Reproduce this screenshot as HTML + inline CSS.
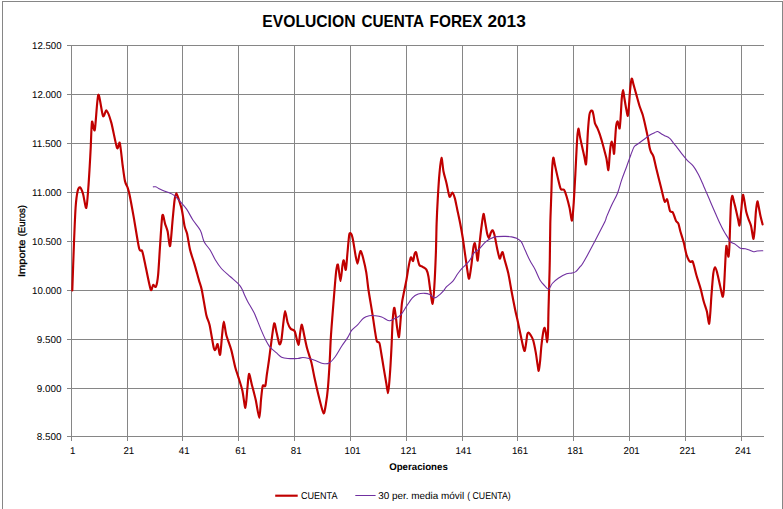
<!DOCTYPE html>
<html><head><meta charset="utf-8"><title>EVOLUCION CUENTA FOREX 2013</title>
<style>
html,body{margin:0;padding:0;background:#fff;}
body{width:783px;height:509px;overflow:hidden;font-family:"Liberation Sans",sans-serif;}
svg{display:block;}
text{font-family:"Liberation Sans",sans-serif;fill:#000;}
.ax{font-size:9.9px;text-rendering:geometricPrecision;}
.b{font-weight:bold;}
</style></head><body>
<svg width="783" height="509" viewBox="0 0 783 509">
<rect x="0" y="0" width="783" height="509" fill="#fff"/>
<g stroke="#868686" stroke-width="1" fill="none" shape-rendering="crispEdges">
<path d="M2.5,510 V1.5 H782.5 V510"/>
<line x1="67" y1="45.5" x2="764" y2="45.5"/>
<line x1="67" y1="94.5" x2="764" y2="94.5"/>
<line x1="67" y1="143.5" x2="764" y2="143.5"/>
<line x1="67" y1="192.5" x2="764" y2="192.5"/>
<line x1="67" y1="241.5" x2="764" y2="241.5"/>
<line x1="67" y1="290.5" x2="764" y2="290.5"/>
<line x1="67" y1="339.5" x2="764" y2="339.5"/>
<line x1="67" y1="388.5" x2="764" y2="388.5"/>
<line x1="67" y1="436.5" x2="764" y2="436.5"/>
<line x1="71.5" y1="45" x2="71.5" y2="441"/>
<line x1="127.5" y1="45" x2="127.5" y2="441"/>
<line x1="182.5" y1="45" x2="182.5" y2="441"/>
<line x1="238.5" y1="45" x2="238.5" y2="441"/>
<line x1="294.5" y1="45" x2="294.5" y2="441"/>
<line x1="350.5" y1="45" x2="350.5" y2="441"/>
<line x1="406.5" y1="45" x2="406.5" y2="441"/>
<line x1="462.5" y1="45" x2="462.5" y2="441"/>
<line x1="517.5" y1="45" x2="517.5" y2="441"/>
<line x1="573.5" y1="45" x2="573.5" y2="441"/>
<line x1="629.5" y1="45" x2="629.5" y2="441"/>
<line x1="685.5" y1="45" x2="685.5" y2="441"/>
<line x1="741.5" y1="45" x2="741.5" y2="441"/>
</g>
<path d="M72.30,290.40 C72.51,284.35 73.46,256.05 73.90,245.00 C74.34,233.95 75.11,214.66 75.60,207.50 C76.09,200.34 77.01,193.99 77.60,191.30 C78.19,188.61 79.28,186.97 80.00,187.30 C80.72,187.63 82.16,191.04 83.00,193.80 C83.84,196.56 85.59,208.77 86.30,208.00 C87.01,207.23 87.86,193.33 88.30,188.00 C88.74,182.67 89.28,173.33 89.60,168.00 C89.92,162.67 90.38,154.16 90.70,148.00 C91.02,141.84 91.45,124.23 92.00,121.80 C92.55,119.37 93.96,133.40 94.80,129.80 C95.64,126.20 97.21,96.64 98.30,94.80 C99.39,92.96 101.91,113.91 103.00,116.00 C104.09,118.09 105.39,109.62 106.50,110.50 C107.61,111.38 109.90,117.61 111.30,122.60 C112.70,127.59 115.87,145.18 117.00,147.90 C118.13,150.62 119.05,140.72 119.80,143.00 C120.55,145.28 121.91,159.89 122.60,165.00 C123.29,170.11 124.33,178.30 125.00,181.30 C125.67,184.30 126.99,185.67 127.60,187.50 C128.21,189.33 128.77,190.99 129.60,195.00 C130.43,199.01 132.53,210.49 133.80,217.60 C135.07,224.71 137.99,243.86 139.10,248.30 C140.21,252.74 141.37,249.15 142.10,250.90 C142.83,252.65 143.47,256.27 144.60,261.40 C145.73,266.53 149.47,286.22 150.60,289.35 C151.73,292.48 152.39,285.21 153.10,284.85 C153.81,284.49 155.23,287.95 155.90,286.65 C156.57,285.35 157.54,280.64 158.10,275.10 C158.66,269.56 159.53,253.07 160.10,245.10 C160.67,237.13 161.73,218.19 162.40,215.35 C163.07,212.51 164.41,221.67 165.10,223.80 C165.79,225.93 166.93,228.33 167.60,231.30 C168.27,234.27 169.43,247.54 170.10,246.05 C170.77,244.56 172.00,226.24 172.60,220.10 C173.20,213.96 174.09,203.58 174.60,200.00 C175.11,196.42 175.83,193.25 176.40,193.25 C176.97,193.25 178.17,197.77 178.90,200.00 C179.63,202.23 181.14,206.49 181.90,210.00 C182.66,213.51 183.91,223.13 184.60,226.30 C185.29,229.47 186.37,230.63 187.10,233.80 C187.83,236.97 189.13,246.09 190.10,250.10 C191.07,254.11 193.23,259.90 194.40,263.90 C195.57,267.90 197.91,276.62 198.90,280.10 C199.89,283.58 200.81,285.35 201.80,290.00 C202.79,294.65 205.26,310.33 206.30,315.00 C207.34,319.67 208.60,320.59 209.60,325.00 C210.60,329.41 213.00,344.85 213.80,348.10 C214.60,351.35 215.09,349.89 215.60,349.35 C216.11,348.81 217.00,343.32 217.60,344.05 C218.20,344.78 219.50,356.06 220.10,354.85 C220.70,353.64 221.61,339.44 222.10,335.00 C222.59,330.56 223.24,321.55 223.80,321.55 C224.36,321.55 225.30,331.19 226.30,335.00 C227.30,338.81 230.10,345.77 231.30,350.10 C232.50,354.43 234.38,363.97 235.30,367.50 C236.22,371.03 237.25,373.51 238.20,376.60 C239.15,379.69 241.44,386.53 242.40,390.70 C243.36,394.87 244.73,408.18 245.40,407.85 C246.07,407.52 246.92,392.73 247.40,388.20 C247.88,383.67 248.40,374.29 249.00,373.85 C249.60,373.41 251.01,381.44 251.90,384.90 C252.79,388.36 254.71,395.41 255.70,399.80 C256.69,404.19 258.59,417.85 259.30,417.85 C260.01,417.85 260.55,404.05 261.00,399.80 C261.45,395.55 262.13,387.80 262.70,385.95 C263.27,384.10 264.75,387.42 265.30,385.95 C265.85,384.48 266.31,378.36 266.80,374.90 C267.29,371.44 268.49,363.64 269.00,360.00 C269.51,356.36 269.92,352.46 270.60,347.60 C271.28,342.74 273.30,325.55 274.10,323.55 C274.90,321.55 275.89,329.87 276.60,332.60 C277.31,335.33 278.76,343.05 279.40,344.05 C280.04,345.05 280.87,342.97 281.40,340.10 C281.93,337.23 282.91,326.37 283.40,322.50 C283.89,318.63 284.54,311.05 285.10,311.05 C285.66,311.05 286.85,320.13 287.60,322.50 C288.35,324.87 289.75,327.63 290.70,328.80 C291.65,329.97 293.67,329.16 294.70,331.30 C295.73,333.44 297.67,344.68 298.40,344.85 C299.13,345.02 299.73,335.28 300.20,332.60 C300.67,329.92 301.34,324.26 301.90,324.75 C302.46,325.24 303.69,333.09 304.40,336.30 C305.11,339.51 306.27,345.29 307.20,348.80 C308.13,352.31 310.41,358.67 311.40,362.60 C312.39,366.53 313.51,373.34 314.60,378.30 C315.69,383.26 318.40,395.13 319.60,399.80 C320.80,404.47 322.76,412.79 323.60,413.35 C324.44,413.91 325.33,407.35 325.90,404.00 C326.47,400.65 327.41,393.63 327.90,388.20 C328.39,382.77 329.21,369.98 329.60,363.30 C329.99,356.62 330.41,344.53 330.80,338.10 C331.19,331.67 332.01,321.51 332.50,315.10 C332.99,308.69 333.99,296.00 334.50,290.00 C335.01,284.00 335.83,273.45 336.30,270.10 C336.77,266.75 337.44,263.39 338.00,264.85 C338.56,266.31 339.90,281.02 340.50,281.05 C341.10,281.08 342.06,267.86 342.50,265.10 C342.94,262.34 343.36,259.72 343.80,260.35 C344.24,260.98 345.31,270.90 345.80,269.85 C346.29,268.80 347.03,257.21 347.50,252.50 C347.97,247.79 348.79,236.96 349.30,234.50 C349.81,232.04 350.81,233.32 351.30,234.05 C351.79,234.78 352.44,237.19 353.00,240.00 C353.56,242.81 354.90,251.96 355.50,255.10 C356.10,258.24 356.99,263.55 357.50,263.55 C358.01,263.55 358.86,256.77 359.30,255.10 C359.74,253.43 360.31,250.72 360.80,251.05 C361.29,251.38 362.27,254.73 363.00,257.60 C363.73,260.47 365.57,268.28 366.30,272.60 C367.03,276.92 367.70,284.59 368.50,290.00 C369.30,295.41 371.46,307.89 372.30,313.20 C373.14,318.51 374.20,326.08 374.80,329.80 C375.40,333.52 376.19,339.34 376.80,341.10 C377.41,342.86 378.80,341.35 379.40,343.00 C380.00,344.65 380.73,350.15 381.30,353.50 C381.87,356.85 383.03,364.11 383.70,368.10 C384.37,372.09 385.73,380.06 386.30,383.40 C386.87,386.74 387.61,393.15 388.00,393.15 C388.39,393.15 388.87,387.09 389.20,383.40 C389.53,379.71 390.18,370.62 390.50,365.50 C390.82,360.38 391.31,351.07 391.60,345.00 C391.89,338.93 392.35,324.95 392.70,320.00 C393.05,315.05 393.81,308.53 394.20,307.85 C394.59,307.17 395.20,312.19 395.60,314.90 C396.00,317.61 396.75,325.25 397.20,328.20 C397.65,331.15 398.55,338.14 399.00,337.05 C399.45,335.96 400.21,324.50 400.60,320.00 C400.99,315.50 401.45,307.03 401.90,303.30 C402.35,299.57 403.40,295.09 404.00,292.00 C404.60,288.91 405.75,283.69 406.40,280.10 C407.05,276.51 408.30,268.13 408.90,265.10 C409.50,262.07 410.34,257.89 410.90,257.35 C411.46,256.81 412.61,261.52 413.10,261.05 C413.59,260.58 414.20,254.97 414.60,253.80 C415.00,252.63 415.70,251.58 416.10,252.25 C416.50,252.92 417.16,257.09 417.60,258.80 C418.04,260.51 418.73,264.03 419.40,265.10 C420.07,266.17 421.67,266.20 422.60,266.80 C423.53,267.40 425.63,268.33 426.40,269.60 C427.17,270.87 427.87,273.45 428.40,276.30 C428.93,279.15 429.84,287.34 430.40,291.00 C430.96,294.66 432.08,304.28 432.60,303.75 C433.12,303.22 433.86,293.83 434.30,287.00 C434.74,280.17 435.59,260.90 435.90,252.50 C436.21,244.10 436.35,231.25 436.60,224.00 C436.85,216.75 437.41,204.87 437.80,198.10 C438.19,191.33 439.01,178.57 439.50,173.20 C439.99,167.83 440.97,158.08 441.50,157.85 C442.03,157.62 442.83,168.12 443.50,171.50 C444.17,174.88 445.70,179.85 446.50,183.20 C447.30,186.55 448.73,195.40 449.50,196.65 C450.27,197.90 451.59,192.36 452.30,192.55 C453.01,192.74 454.13,195.81 454.80,198.10 C455.47,200.39 456.59,206.38 457.30,209.70 C458.01,213.02 459.38,219.29 460.10,223.00 C460.82,226.71 462.02,233.22 462.70,237.50 C463.38,241.78 464.53,250.42 465.20,255.10 C465.87,259.78 467.17,269.47 467.70,272.60 C468.23,275.73 468.71,279.55 469.20,278.55 C469.69,277.55 470.84,269.24 471.40,265.10 C471.96,260.96 472.93,250.41 473.40,247.50 C473.87,244.59 474.50,242.58 474.90,243.25 C475.30,243.92 476.03,250.19 476.40,252.50 C476.77,254.81 477.30,261.55 477.70,260.55 C478.10,259.55 478.91,249.41 479.40,245.00 C479.89,240.59 480.85,231.65 481.40,227.50 C481.95,223.35 482.98,214.45 483.50,213.85 C484.02,213.25 484.81,220.34 485.30,223.00 C485.79,225.66 486.71,231.79 487.20,233.80 C487.69,235.81 488.53,238.16 489.00,238.05 C489.47,237.94 490.23,234.04 490.70,233.00 C491.17,231.96 491.99,229.98 492.50,230.25 C493.01,230.52 493.87,232.53 494.50,235.00 C495.13,237.47 496.51,245.66 497.20,248.80 C497.89,251.94 499.13,257.88 499.70,258.55 C500.27,259.22 501.10,254.64 501.50,253.80 C501.90,252.96 502.27,251.41 502.70,252.25 C503.13,253.09 503.95,257.29 504.70,260.10 C505.45,262.91 507.38,269.11 508.30,273.30 C509.22,277.49 510.68,286.61 511.60,291.50 C512.52,296.39 514.37,306.00 515.20,310.00 C516.03,314.00 517.03,317.93 517.80,321.50 C518.57,325.07 520.24,333.23 521.00,336.80 C521.76,340.37 522.99,346.43 523.50,348.30 C524.01,350.17 524.45,351.53 524.80,350.85 C525.15,350.17 525.77,345.41 526.10,343.20 C526.43,340.99 526.99,335.72 527.30,334.30 C527.61,332.88 527.97,332.47 528.40,332.55 C528.83,332.63 529.87,333.91 530.50,334.90 C531.13,335.89 532.41,337.71 533.10,340.00 C533.79,342.29 535.10,348.78 535.70,352.10 C536.30,355.42 537.20,362.41 537.60,364.90 C538.00,367.39 538.37,371.26 538.70,370.75 C539.03,370.24 539.74,364.43 540.10,361.10 C540.46,357.77 540.97,349.72 541.40,345.80 C541.83,341.88 542.87,334.11 543.30,331.70 C543.73,329.29 544.25,327.58 544.60,327.75 C544.95,327.92 545.57,331.05 545.90,333.00 C546.23,334.95 546.82,342.35 547.10,342.35 C547.38,342.35 547.81,337.34 548.00,333.00 C548.19,328.66 548.34,316.21 548.50,309.80 C548.66,303.39 549.03,291.54 549.20,284.90 C549.37,278.26 549.65,268.12 549.80,260.00 C549.95,251.88 550.10,232.69 550.30,224.00 C550.50,215.31 551.06,202.01 551.30,194.80 C551.54,187.59 551.83,174.85 552.10,169.90 C552.37,164.95 552.93,158.32 553.30,157.65 C553.67,156.98 554.29,162.16 554.90,164.90 C555.51,167.64 557.11,174.99 557.90,178.20 C558.69,181.41 559.97,187.45 560.80,189.00 C561.63,190.55 563.33,188.80 564.10,189.80 C564.87,190.80 565.87,194.06 566.60,196.50 C567.33,198.94 568.88,204.88 569.60,208.10 C570.32,211.32 571.45,221.32 572.00,220.65 C572.55,219.98 573.25,209.43 573.70,203.10 C574.15,196.77 575.01,180.41 575.40,173.20 C575.79,165.99 576.32,154.13 576.60,149.00 C576.88,143.87 577.23,137.41 577.50,134.70 C577.77,131.99 578.28,128.42 578.60,128.65 C578.92,128.88 579.39,133.82 579.90,136.40 C580.41,138.98 581.83,145.39 582.40,148.00 C582.97,150.61 583.72,153.82 584.20,156.00 C584.68,158.18 585.63,165.15 586.00,164.35 C586.37,163.55 586.75,154.39 587.00,150.00 C587.25,145.61 587.58,136.09 587.90,131.40 C588.22,126.71 589.03,117.49 589.40,114.80 C589.77,112.11 590.30,111.71 590.70,111.20 C591.10,110.69 592.01,110.36 592.40,110.95 C592.79,111.54 593.27,113.98 593.60,115.60 C593.93,117.22 594.39,121.43 594.90,123.10 C595.41,124.77 596.73,126.55 597.40,128.10 C598.07,129.65 599.23,132.71 599.90,134.70 C600.57,136.69 601.85,141.09 602.40,143.00 C602.95,144.91 603.47,146.96 604.00,149.00 C604.53,151.04 605.81,155.48 606.40,158.30 C606.99,161.12 607.97,170.46 608.40,170.15 C608.83,169.84 609.31,159.22 609.60,156.00 C609.89,152.78 610.31,147.93 610.60,146.00 C610.89,144.07 611.48,141.48 611.80,141.55 C612.12,141.62 612.69,144.87 613.00,146.50 C613.31,148.13 613.82,154.62 614.10,153.75 C614.38,152.88 614.83,143.65 615.10,140.00 C615.37,136.35 615.78,128.89 616.10,126.40 C616.42,123.91 617.18,121.56 617.50,121.35 C617.82,121.14 618.22,123.87 618.50,124.80 C618.78,125.73 619.32,129.24 619.60,128.35 C619.88,127.46 620.31,122.12 620.60,118.10 C620.89,114.08 621.47,101.93 621.80,98.20 C622.13,94.47 622.75,90.15 623.10,90.15 C623.45,90.15 624.00,95.79 624.40,98.20 C624.80,100.61 625.65,105.85 626.10,108.20 C626.55,110.55 627.43,116.08 627.80,115.85 C628.17,115.62 628.59,109.96 628.90,106.50 C629.21,103.04 629.73,93.63 630.10,89.90 C630.47,86.17 631.26,79.32 631.70,78.55 C632.14,77.78 632.77,81.92 633.40,84.10 C634.03,86.28 635.56,91.91 636.40,94.90 C637.24,97.89 638.86,103.85 639.70,106.50 C640.54,109.15 641.93,112.15 642.70,114.80 C643.47,117.45 644.79,123.29 645.50,126.40 C646.21,129.51 647.45,135.29 648.00,138.10 C648.55,140.91 649.20,145.65 649.60,147.50 C650.00,149.35 650.48,150.79 651.00,152.00 C651.52,153.21 652.75,154.23 653.50,156.60 C654.25,158.97 655.63,165.81 656.60,169.80 C657.57,173.79 659.92,182.95 660.80,186.50 C661.68,190.05 662.67,194.35 663.20,196.40 C663.73,198.45 664.28,201.47 664.80,201.85 C665.32,202.23 666.61,198.86 667.10,199.25 C667.59,199.64 668.10,203.19 668.50,204.80 C668.90,206.41 669.54,210.30 670.10,211.30 C670.66,212.30 672.13,211.61 672.70,212.30 C673.27,212.99 673.93,215.31 674.40,216.50 C674.87,217.69 675.67,220.24 676.20,221.20 C676.73,222.16 677.84,222.33 678.40,223.70 C678.96,225.07 679.69,229.02 680.40,231.50 C681.11,233.98 682.91,239.30 683.70,242.30 C684.49,245.30 685.62,251.61 686.30,254.00 C686.98,256.39 688.23,259.15 688.80,260.20 C689.37,261.25 690.11,261.71 690.60,261.85 C691.09,261.99 692.05,260.74 692.50,261.25 C692.95,261.76 693.47,263.80 694.00,265.70 C694.53,267.60 695.61,272.39 696.50,275.50 C697.39,278.61 699.73,285.49 700.70,289.00 C701.67,292.51 702.97,298.79 703.80,301.80 C704.63,304.81 706.21,308.66 706.90,311.60 C707.59,314.54 708.55,323.66 709.00,323.85 C709.45,324.04 709.98,316.71 710.30,313.00 C710.62,309.29 711.00,301.27 711.40,296.00 C711.80,290.73 712.79,277.33 713.30,273.50 C713.81,269.67 714.69,267.38 715.20,267.25 C715.71,267.12 716.49,270.21 717.10,272.50 C717.71,274.79 719.19,281.63 719.80,284.40 C720.41,287.17 721.30,291.67 721.70,293.30 C722.10,294.93 722.51,297.16 722.80,296.65 C723.09,296.14 723.62,293.01 723.90,289.50 C724.18,285.99 724.67,274.77 724.90,270.30 C725.13,265.83 725.40,259.26 725.60,256.00 C725.80,252.74 726.16,246.46 726.40,245.85 C726.64,245.24 727.12,249.96 727.40,251.40 C727.68,252.84 728.23,257.30 728.50,256.65 C728.77,256.00 729.17,250.96 729.40,246.50 C729.63,242.04 729.99,228.96 730.20,223.20 C730.41,217.44 730.72,206.96 731.00,203.30 C731.28,199.64 731.90,195.92 732.30,195.75 C732.70,195.58 733.51,200.11 734.00,202.00 C734.49,203.89 735.44,207.51 736.00,209.90 C736.56,212.29 737.73,217.83 738.20,219.90 C738.67,221.97 739.13,226.34 739.50,225.45 C739.87,224.56 740.64,216.59 741.00,213.20 C741.36,209.81 741.91,202.46 742.20,200.00 C742.49,197.54 742.88,194.48 743.20,194.75 C743.52,195.02 744.19,199.70 744.60,202.00 C745.01,204.30 745.78,209.72 746.30,212.00 C746.82,214.28 747.87,217.27 748.50,219.10 C749.13,220.93 750.49,223.82 751.00,225.70 C751.51,227.58 751.97,231.46 752.30,233.20 C752.63,234.94 753.17,239.42 753.50,238.75 C753.83,238.08 754.48,231.82 754.80,228.20 C755.12,224.58 755.55,215.17 755.90,211.60 C756.25,208.03 757.03,202.09 757.40,201.45 C757.77,200.81 758.27,204.78 758.70,206.80 C759.13,208.82 760.08,214.25 760.60,216.60 C761.12,218.95 762.33,223.36 762.60,224.40" fill="none" stroke="#C00000" stroke-width="2.15" stroke-linejoin="round" stroke-linecap="round"/>
<path d="M153.30,186.85 C153.72,186.85 154.63,186.43 155.80,186.85 C156.97,187.27 158.30,188.43 160.30,189.35 C162.30,190.27 165.50,191.35 167.80,192.35 C170.10,193.35 172.02,193.80 174.10,195.35 C176.18,196.90 178.22,199.35 180.30,201.65 C182.38,203.95 184.50,206.10 186.60,209.15 C188.70,212.20 190.60,216.40 192.90,219.95 C195.20,223.50 198.53,226.83 200.40,230.45 C202.27,234.07 202.43,238.32 204.10,241.65 C205.77,244.98 208.52,247.40 210.40,250.45 C212.28,253.50 213.53,256.90 215.40,259.95 C217.27,263.00 219.10,265.95 221.60,268.75 C224.10,271.55 227.68,274.30 230.40,276.75 C233.12,279.20 236.02,281.50 237.90,283.45 C239.78,285.40 240.53,286.40 241.70,288.45 C242.87,290.50 243.88,293.55 244.90,295.75 C245.92,297.95 246.27,298.80 247.80,301.65 C249.33,304.50 252.02,308.48 254.10,312.85 C256.18,317.22 258.43,323.47 260.30,327.85 C262.17,332.23 263.63,335.88 265.30,339.15 C266.97,342.42 268.42,345.15 270.30,347.45 C272.18,349.75 274.72,351.33 276.60,352.95 C278.48,354.57 279.72,356.23 281.60,357.15 C283.48,358.07 285.18,358.23 287.90,358.45 C290.62,358.67 295.40,358.62 297.90,358.45 C300.40,358.28 301.03,357.45 302.90,357.45 C304.77,357.45 307.02,357.95 309.10,358.45 C311.18,358.95 313.10,359.62 315.40,360.45 C317.70,361.28 320.60,363.03 322.90,363.45 C325.20,363.87 327.15,364.07 329.20,362.95 C331.25,361.83 333.10,359.58 335.20,356.75 C337.30,353.92 339.73,349.13 341.80,345.95 C343.87,342.77 345.93,340.28 347.60,337.65 C349.27,335.02 350.13,332.28 351.80,330.15 C353.47,328.02 355.67,326.83 357.60,324.85 C359.53,322.87 361.47,319.77 363.40,318.25 C365.33,316.73 367.27,316.17 369.20,315.75 C371.13,315.33 372.92,315.55 375.00,315.75 C377.08,315.95 379.35,316.12 381.70,316.95 C384.05,317.78 386.90,320.48 389.10,320.75 C391.30,321.02 392.97,319.52 394.90,318.55 C396.83,317.58 398.75,317.02 400.70,314.95 C402.65,312.88 404.65,309.00 406.60,306.15 C408.55,303.30 410.47,299.87 412.40,297.85 C414.33,295.83 416.13,294.80 418.20,294.05 C420.27,293.30 422.87,293.27 424.80,293.35 C426.73,293.43 428.13,293.80 429.80,294.55 C431.47,295.30 433.13,297.85 434.80,297.85 C436.47,297.85 438.28,295.80 439.80,294.55 C441.32,293.30 442.77,291.67 443.90,290.35 C445.03,289.03 445.10,288.18 446.60,286.65 C448.10,285.12 451.02,283.35 452.90,281.15 C454.78,278.95 456.23,275.73 457.90,273.45 C459.57,271.17 461.03,269.50 462.90,267.45 C464.77,265.40 467.23,263.58 469.10,261.15 C470.97,258.72 472.43,254.85 474.10,252.85 C475.77,250.85 477.22,250.93 479.10,249.15 C480.98,247.37 483.52,243.90 485.40,242.15 C487.28,240.40 488.52,239.57 490.40,238.65 C492.28,237.73 494.20,237.03 496.70,236.65 C499.20,236.27 502.90,236.32 505.40,236.35 C507.90,236.38 509.82,236.52 511.70,236.85 C513.58,237.18 515.12,237.55 516.70,238.35 C518.28,239.15 519.78,239.65 521.20,241.65 C522.62,243.65 523.77,247.23 525.20,250.35 C526.63,253.47 528.15,257.17 529.80,260.35 C531.45,263.53 533.38,266.13 535.10,269.45 C536.82,272.77 538.45,277.48 540.10,280.25 C541.75,283.02 543.57,284.58 545.00,286.05 C546.43,287.52 547.45,289.52 548.70,289.05 C549.95,288.58 550.90,285.05 552.50,283.25 C554.10,281.45 555.95,279.85 558.30,278.25 C560.65,276.65 564.38,274.50 566.60,273.65 C568.82,272.80 570.07,273.48 571.60,273.15 C573.13,272.82 574.42,272.68 575.80,271.65 C577.18,270.62 578.43,268.83 579.90,266.95 C581.37,265.07 580.65,267.45 584.60,260.35 C588.55,253.25 599.93,231.62 603.60,224.35 C607.27,217.08 605.27,219.95 606.60,216.75 C607.93,213.55 609.80,209.03 611.60,205.15 C613.40,201.27 615.73,197.62 617.40,193.45 C619.07,189.28 620.08,184.57 621.60,180.15 C623.12,175.73 624.98,171.10 626.50,166.95 C628.02,162.80 629.45,158.58 630.70,155.25 C631.95,151.92 633.02,148.70 634.00,146.95 C634.98,145.20 635.07,145.90 636.60,144.75 C638.13,143.60 640.98,141.67 643.20,140.05 C645.42,138.43 648.00,136.28 649.90,135.05 C651.80,133.82 653.30,133.23 654.60,132.65 C655.90,132.07 656.55,131.33 657.70,131.55 C658.85,131.77 660.35,133.27 661.50,133.95 C662.65,134.63 663.23,134.92 664.60,135.65 C665.97,136.38 668.28,137.20 669.70,138.35 C671.12,139.50 672.03,141.25 673.10,142.55 C674.17,143.85 674.67,144.32 676.10,146.15 C677.53,147.98 679.80,151.15 681.70,153.55 C683.60,155.95 685.57,158.47 687.50,160.55 C689.43,162.63 691.50,163.75 693.30,166.05 C695.10,168.35 696.63,171.17 698.30,174.35 C699.97,177.53 702.10,182.48 703.30,185.15 C704.50,187.82 704.67,188.42 705.50,190.35 C706.33,192.28 707.47,194.82 708.30,196.75 C709.13,198.68 709.30,199.15 710.50,201.95 C711.70,204.75 713.98,210.08 715.50,213.55 C717.02,217.02 718.22,219.83 719.60,222.75 C720.98,225.67 722.42,228.57 723.80,231.05 C725.18,233.53 726.80,235.85 727.90,237.65 C729.00,239.45 729.15,240.73 730.40,241.85 C731.65,242.97 733.73,243.30 735.40,244.35 C737.07,245.40 738.75,247.42 740.40,248.15 C742.05,248.88 743.65,248.37 745.30,248.75 C746.95,249.13 748.92,249.95 750.30,250.45 C751.68,250.95 752.48,251.67 753.60,251.75 C754.72,251.83 755.47,251.12 757.00,250.95 C758.53,250.78 761.83,250.78 762.80,250.75" fill="none" stroke="#7030A0" stroke-width="1.1" stroke-linejoin="round" stroke-linecap="round"/>
<text x="61.6" y="49.4" text-anchor="end" class="ax" textLength="29.6" lengthAdjust="spacingAndGlyphs">12.500</text>
<text x="61.6" y="98.4" text-anchor="end" class="ax" textLength="29.6" lengthAdjust="spacingAndGlyphs">12.000</text>
<text x="61.6" y="147.4" text-anchor="end" class="ax" textLength="29.6" lengthAdjust="spacingAndGlyphs">11.500</text>
<text x="61.6" y="196.4" text-anchor="end" class="ax" textLength="29.6" lengthAdjust="spacingAndGlyphs">11.000</text>
<text x="61.6" y="245.4" text-anchor="end" class="ax" textLength="29.6" lengthAdjust="spacingAndGlyphs">10.500</text>
<text x="61.6" y="294.4" text-anchor="end" class="ax" textLength="29.6" lengthAdjust="spacingAndGlyphs">10.000</text>
<text x="61.6" y="343.4" text-anchor="end" class="ax" textLength="24.8" lengthAdjust="spacingAndGlyphs">9.500</text>
<text x="61.6" y="392.4" text-anchor="end" class="ax" textLength="24.8" lengthAdjust="spacingAndGlyphs">9.000</text>
<text x="61.6" y="440.4" text-anchor="end" class="ax" textLength="24.8" lengthAdjust="spacingAndGlyphs">8.500</text>
<text x="72.8" y="454" text-anchor="middle" class="ax" textLength="5.4" lengthAdjust="spacingAndGlyphs">1</text>
<text x="128.8" y="454" text-anchor="middle" class="ax" textLength="10.8" lengthAdjust="spacingAndGlyphs">21</text>
<text x="184.2" y="454" text-anchor="middle" class="ax" textLength="10.8" lengthAdjust="spacingAndGlyphs">41</text>
<text x="240.7" y="454" text-anchor="middle" class="ax" textLength="10.8" lengthAdjust="spacingAndGlyphs">61</text>
<text x="296.2" y="454" text-anchor="middle" class="ax" textLength="10.8" lengthAdjust="spacingAndGlyphs">81</text>
<text x="352.6" y="454" text-anchor="middle" class="ax" textLength="16.2" lengthAdjust="spacingAndGlyphs">101</text>
<text x="408.6" y="454" text-anchor="middle" class="ax" textLength="16.2" lengthAdjust="spacingAndGlyphs">121</text>
<text x="463.5" y="454" text-anchor="middle" class="ax" textLength="16.2" lengthAdjust="spacingAndGlyphs">141</text>
<text x="520.0" y="454" text-anchor="middle" class="ax" textLength="16.2" lengthAdjust="spacingAndGlyphs">161</text>
<text x="575.4" y="454" text-anchor="middle" class="ax" textLength="16.2" lengthAdjust="spacingAndGlyphs">181</text>
<text x="631.6" y="454" text-anchor="middle" class="ax" textLength="16.2" lengthAdjust="spacingAndGlyphs">201</text>
<text x="687.6" y="454" text-anchor="middle" class="ax" textLength="16.2" lengthAdjust="spacingAndGlyphs">221</text>
<text x="743.1" y="454" text-anchor="middle" class="ax" textLength="16.2" lengthAdjust="spacingAndGlyphs">241</text>
<g class="b" font-size="16.4" lengthAdjust="spacingAndGlyphs">
<text x="262.3" y="26.8" textLength="93.2" lengthAdjust="spacingAndGlyphs">EVOLUCION</text>
<text x="361.5" y="26.8" textLength="62.6" lengthAdjust="spacingAndGlyphs">CUENTA</text>
<text x="429.6" y="26.8" textLength="53" lengthAdjust="spacingAndGlyphs">FOREX</text>
<text x="487.4" y="26.8" textLength="38.4" lengthAdjust="spacingAndGlyphs">2013</text>
</g>
<text x="418.5" y="469.8" text-anchor="middle" class="b" font-size="9.8" style="text-rendering:geometricPrecision" textLength="58.6" lengthAdjust="spacingAndGlyphs">Operaciones</text>
<g font-size="9.7" stroke="#000" stroke-width="0.3" style="text-rendering:geometricPrecision">
<text transform="translate(25.1,277) rotate(-90)" textLength="37.4" lengthAdjust="spacingAndGlyphs">Importe</text>
<text transform="translate(25.1,236.3) rotate(-90)" textLength="31.2" lengthAdjust="spacingAndGlyphs">(Euros)</text>
</g>
<line x1="275.2" y1="495.7" x2="297.7" y2="495.7" stroke="#C00000" stroke-width="2.15"/>
<text x="300.9" y="498.9" class="ax" textLength="36.6" lengthAdjust="spacingAndGlyphs">CUENTA</text>
<line x1="355.3" y1="495.5" x2="375.6" y2="495.5" stroke="#7030A0" stroke-width="1"/>
<text x="378.2" y="498.9" class="ax" textLength="86" lengthAdjust="spacingAndGlyphs">30 per. media móvil</text>
<text x="467.2" y="498.9" class="ax" textLength="43.6" lengthAdjust="spacingAndGlyphs">( CUENTA)</text>
</svg>
</body></html>
